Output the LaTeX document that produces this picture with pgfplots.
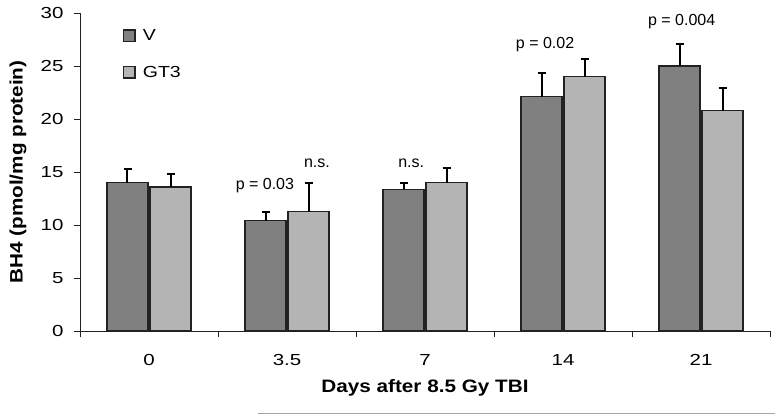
\documentclass[border=0pt]{standalone}
\usepackage{fontspec}
\setmainfont{Liberation Sans}
\newfontfamily\tickfont[FakeStretch=1.28]{Liberation Sans}
\newfontfamily\legfont[FakeStretch=1.22]{Liberation Sans}
\newfontfamily\labfont[FakeStretch=1.15]{Liberation Sans}
\usepackage{pgfplots}
\usepackage{pgfplotstable}
\pgfplotsset{compat=1.18}
\definecolor{vgray}{HTML}{808080}
\definecolor{ggray}{HTML}{B4B4B4}
\definecolor{edge}{HTML}{222222}
\newcommand\fs{\fontsize{16}{19}\selectfont\tickfont}
\newcommand\fg{\fontsize{16}{19}\selectfont\legfont}
\newcommand\fa{\fontsize{16}{19}\selectfont}
\newcommand\fl{\fontsize{18}{21}\selectfont\labfont\bfseries}
\pgfplotstableread{
x V Verr G Gerr
0 14.0 1.3 13.6 1.2
1 10.4 0.8 11.25 2.75
2 13.35 0.65 14.0 1.4
3 22.1 2.2 24.0 1.7
4 25.0 2.1 20.8 2.1
}\data
\begin{document}
\begin{tikzpicture}[x=1pt,y=1pt]
\useasboundingbox (-80,-85) rectangle (695,331);
\begin{axis}[
  at={(0,0)}, anchor=south west, scale only axis,
  width=690pt, height=318pt,
  xmin=-0.5, xmax=4.5, ymin=0, ymax=30,
  clip=false,
  ybar=2pt, bar width=41pt,
  axis x line*=bottom, axis y line*=left,
  axis line style={edge, line width=0.9pt},
  tick style={edge, line width=0.9pt},
  tick align=outside, major tick length=6pt,
  xtick={-0.5,0.5,1.5,2.5,3.5,4.5},
  xticklabels={0,3.5,7,14,21,{}},
  xticklabel style={xshift=69pt, yshift=-14pt, font=\fs},
  ytick={0,5,...,30},
  yticklabel style={xshift=-7pt, font=\fs},
  /pgf/number format/assume math mode=true,
  ylabel={BH4 (pmol/mg protein)},
  ylabel style={at={(axis description cs:-0.0899,0.5)}, anchor=center, font=\fl},
  xlabel={Days after 8.5 Gy TBI},
  xlabel style={at={(axis description cs:0.5,-0.179)}, anchor=center, font=\fl},
  legend style={at={(axis description cs:0.062,0.955)}, anchor=north west,
    draw=none, fill=none, inner sep=0pt, font=\fg, row sep=20pt,
    cells={anchor=west}},
  legend image code/.code={\draw[#1] (0pt,-5.75pt) rectangle (11.5pt,5.75pt);},
]
\addplot[fill=vgray, draw=edge, line width=1.4pt,
  error bars/.cd, y dir=plus, y explicit, error mark=|,
  error bar style={line width=2pt, black},
  error mark options={line width=2pt, black, mark size=4pt}]
  table[x=x, y=V, y error=Verr] {\data};
\addplot[fill=ggray, draw=edge, line width=1.4pt,
  error bars/.cd, y dir=plus, y explicit, error mark=|,
  error bar style={line width=2pt, black},
  error mark options={line width=2pt, black, mark size=4pt}]
  table[x=x, y=G, y error=Gerr] {\data};
\legend{\hspace{5pt}V, \hspace{5pt}GT3}
\node[font=\fa] at (axis cs:0.84,13.7) {p = 0.03};
\node[font=\fa] at (axis cs:1.217,15.85) {n.s.};
\node[font=\fa] at (axis cs:1.90,15.85) {n.s.};
\node[font=\fa] at (axis cs:2.87,27.0) {p = 0.02};
\node[font=\fa] at (axis cs:3.86,29.15) {p = 0.004};
\end{axis}
\draw[black!35, line width=1pt] (178,-82.5) -- (695,-82.5);
\end{tikzpicture}
\end{document}
